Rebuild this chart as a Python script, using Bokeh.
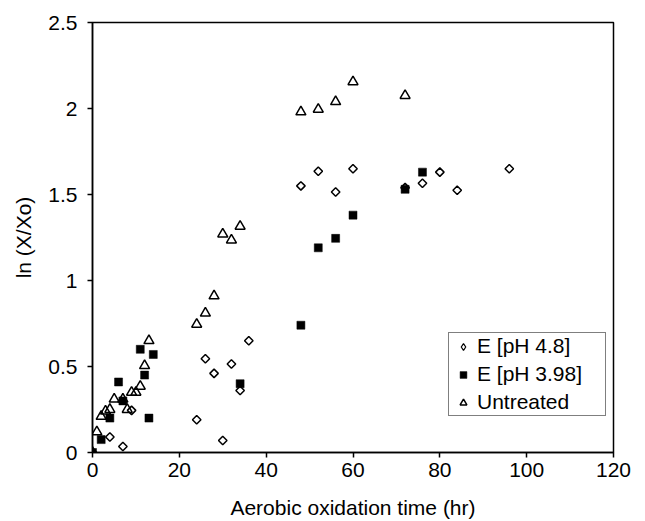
from bokeh.plotting import figure
from bokeh.models import Legend, LegendItem, FixedTicker, Range1d
from bokeh.embed import file_html
from bokeh.resources import INLINE
import numpy as np

# ---- data ----
x_ticks = [0, 20, 40, 60, 80, 100, 120]
y_ticks = [0, 0.5, 1, 1.5, 2, 2.5]
y_tick_labels = ["0", "0.5", "1", "1.5", "2", "2.5"]

time_ph48 = [0, 4, 7, 9, 24, 26, 28, 30, 32, 34, 36, 48, 52, 56, 60, 72, 76, 80, 84, 96]
ln_ph48 = [0, 0.09, 0.035, 0.245, 0.19, 0.545, 0.46, 0.07, 0.515, 0.36, 0.65,
           1.55, 1.635, 1.515, 1.65, 1.54, 1.565, 1.63, 1.525, 1.65]

time_ph398 = [0, 2, 4, 6, 7, 11, 12, 13, 14, 34, 48, 52, 56, 60, 72, 76]
ln_ph398 = [0, 0.075, 0.2, 0.41, 0.30, 0.60, 0.45, 0.20, 0.57, 0.40, 0.74,
            1.19, 1.245, 1.38, 1.53, 1.63]

time_untreated = [0, 1, 2, 3, 4, 5, 7, 8, 9, 10, 11, 12, 13, 24, 26, 28, 30, 32, 34,
                  48, 52, 56, 60, 72]
ln_untreated = [0, 0.12, 0.21, 0.24, 0.25, 0.31, 0.31, 0.25, 0.35, 0.35, 0.385, 0.505, 0.65,
                0.745, 0.81, 0.91, 1.27, 1.235, 1.315, 1.98, 1.995, 2.04, 2.155, 2.075]

series_labels = ["E [pH 4.8]", "E [pH 3.98]", "Untreated"]

FONT = "Liberation Sans"

p = figure(width=640, height=521, output_backend="svg", toolbar_location=None,
           x_range=Range1d(0, 120), y_range=Range1d(0, 2.5),
           min_border_left=92, min_border_right=27, min_border_top=22, min_border_bottom=68,
           background_fill_color="white", border_fill_color="white")

p.xgrid.visible = False
p.ygrid.visible = False
p.outline_line_color = "black"
p.outline_line_width = 1.5
p.outline_line_alpha = 1.0

p.xaxis.ticker = FixedTicker(ticks=x_ticks)
p.yaxis.ticker = FixedTicker(ticks=y_ticks)
p.yaxis.major_label_overrides = {t: l for t, l in zip(y_ticks, y_tick_labels)}

for ax in (p.xaxis, p.yaxis):
    ax.axis_line_color = "black"
    ax.axis_line_width = 1.5
    ax.major_tick_line_color = "black"
    ax.major_tick_line_width = 1.5
    ax.major_tick_in = 0
    ax.major_tick_out = 5
    ax.minor_tick_line_color = None
    ax.major_label_text_font = FONT
    ax.major_label_text_font_size = "21px"
    ax.major_label_text_color = "black"
    ax.axis_label_text_font = FONT
    ax.axis_label_text_font_size = "21px"
    ax.axis_label_text_font_style = "normal"
    ax.axis_label_text_color = "black"

p.xaxis.axis_label = "Aerobic oxidation time (hr)"
p.yaxis.axis_label = "ln (X/Xo)"
p.xaxis.major_label_standoff = 5
p.xaxis.axis_label_standoff = 16
p.yaxis.major_label_standoff = 10
p.yaxis.axis_label_standoff = 10

r_d = p.scatter(time_ph48, ln_ph48, marker="square", angle=np.pi / 4, size=6,
                fill_color="white", line_color="black", line_width=1.5)
r_s = p.scatter(time_ph398, ln_ph398, marker="square", size=8,
                fill_color="black", line_color="black", line_width=0.5)
r_t = p.scatter(time_untreated, ln_untreated, marker="triangle", size=10,
                fill_color=None, line_color="black", line_width=1.5)

# hidden duplicate of the pH 4.8 series, used only for its (unrotated) legend glyph
r_d_leg = p.scatter(time_ph48, ln_ph48, marker="diamond", size=8, visible=False,
                    fill_color="white", line_color="black", line_width=1.2)

legend = Legend(items=[LegendItem(label=series_labels[0], renderers=[r_d_leg]),
                       LegendItem(label=series_labels[1], renderers=[r_s]),
                       LegendItem(label=series_labels[2], renderers=[r_t])],
                location=(356, 36))
legend.label_text_font = FONT
legend.label_text_font_size = "21px"
legend.label_text_color = "black"
legend.border_line_color = "black"
legend.border_line_width = 1
legend.background_fill_color = "white"
legend.background_fill_alpha = 1.0
legend.inactive_fill_alpha = 0.0
legend.padding = 1
legend.spacing = 4
legend.glyph_width = 26
legend.glyph_height = 17
legend.label_height = 21
legend.label_standoff = 1
legend.label_width = 127
legend.margin = 0
p.add_layout(legend)

open("out.html", "w").write(file_html(p, INLINE))
